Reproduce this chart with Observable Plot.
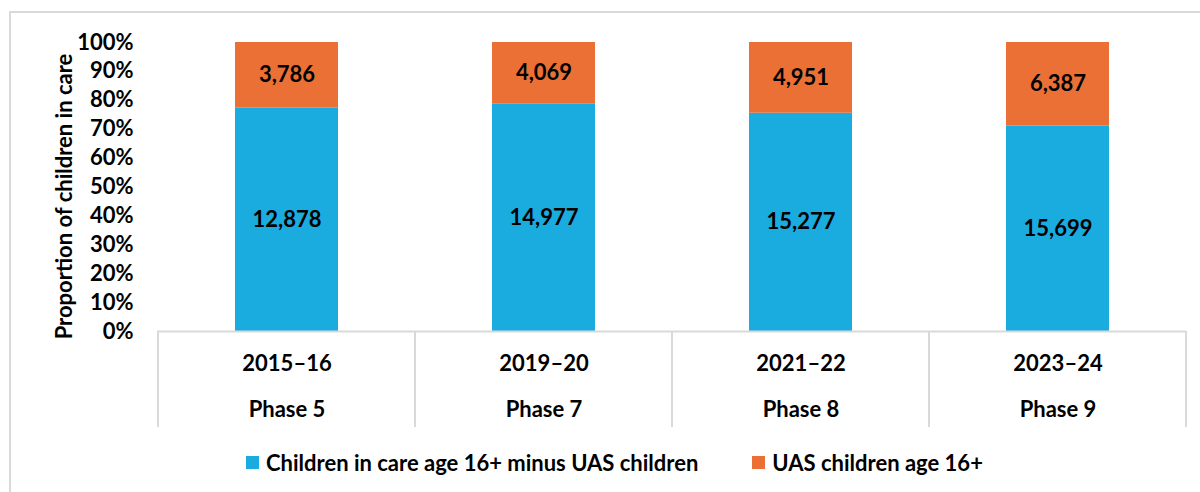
<!DOCTYPE html>
<html>
<head>
<meta charset="utf-8">
<script src="https://cdn.jsdelivr.net/npm/d3@7"></script>
<script src="https://cdn.jsdelivr.net/npm/@observablehq/plot@0.6"></script>
<style>
  html, body { margin: 0; padding: 0; background: #fff; overflow: hidden; }
  #wrap { position: relative; width: 1200px; height: 492px; font-family: Lato, "Open Sans", sans-serif; }
  #frame { position: absolute; left: 9px; top: 11px; width: 1210px; height: 500px; border-left: 2px solid #d9d9d9; border-top: 2px solid #d9d9d9; pointer-events: none; }
  #legend { position: absolute; left: 246px; top: 449px; display: flex; align-items: center; font-weight: bold; font-size: 22px; color: #000; }
  .item { display: flex; align-items: center; margin-right: 54px; }
  .sw { width: 13px; height: 13px; margin-right: 7px; }
</style>
</head>
<body>
<div id="wrap">
  <div id="chart"></div>
  <div id="legend"></div>
  <div id="frame"></div>
</div>
<script>
const periods = ["2015–16", "2019–20", "2021–22", "2023–24"];
const phases = ["Phase 5", "Phase 7", "Phase 8", "Phase 9"];
const seriesNames = ["Children in care age 16+ minus UAS children", "UAS children age 16+"];
const nonUAS = [12878, 14977, 15277, 15699];
const uas = [3786, 4069, 4951, 6387];
const colors = ["#1AABDF", "#EA7035"];
const yTicks = [0, 0.1, 0.2, 0.3, 0.4, 0.5, 0.6, 0.7, 0.8, 0.9, 1];
const yTitle = "Proportion of children in care";

const data = [];
periods.forEach((p, i) => {
  data.push({period: p, series: seriesNames[0], value: nonUAS[i]});
  data.push({period: p, series: seriesNames[1], value: uas[i]});
});
const phaseOf = Object.fromEntries(periods.map((p, i) => [p, phases[i]]));
const fmt = d3.format(",");
const FS = 22;

const plot = Plot.plot({
  width: 1200,
  height: 440,
  marginLeft: 157,
  marginRight: 14,
  marginTop: 42,
  marginBottom: 109,
  style: {fontFamily: "Lato, 'Open Sans', sans-serif", background: "transparent", color: "#000"},
  x: {domain: periods, paddingInner: 0.6, paddingOuter: 0.3, axis: null},
  y: {domain: [0, 1], axis: null},
  color: {domain: seriesNames, range: colors},
  marks: [
    Plot.barY(data, Plot.stackY({x: "period", y: "value", fill: "series", order: seriesNames, offset: "normalize"})),
    Plot.text(data, Plot.stackY({x: "period", y: "value", z: "series", order: seriesNames, offset: "normalize",
      text: d => fmt(d.value), fontSize: FS, fontWeight: "bold", fill: "#000"})),
    Plot.ruleY([0], {stroke: "#d9d9d9", strokeWidth: 2}),
    Plot.axisY({ticks: yTicks, tickFormat: d3.format(".0%"), tickSize: 0, tickPadding: 24, fontSize: FS, fontWeight: "bold", label: null}),
    Plot.axisX({tickSize: 0, tickPadding: 24, fontSize: FS, fontWeight: "bold", label: null}),
    Plot.axisX({tickSize: 0, tickPadding: 70, fontSize: FS, fontWeight: "bold", label: null, tickFormat: d => phaseOf[d]})
  ]
});
document.getElementById("chart").appendChild(plot);

// category table dividers from the x scale
const xs = plot.scale("x");
const ys = plot.scale("y");
const step = xs.step;
const y0 = ys.apply(0);
const svg = d3.select(plot);
const edges = periods.map(p => xs.apply(p) + xs.bandwidth / 2 - step / 2).concat([xs.apply(periods[periods.length - 1]) + xs.bandwidth / 2 + step / 2]);
svg.append("g").selectAll("line").data(edges).join("line")
  .attr("x1", d => d).attr("x2", d => d)
  .attr("y1", y0).attr("y2", y0 + 96)
  .attr("stroke", "#d9d9d9").attr("stroke-width", 2);

// y axis title
const yMid = (ys.apply(0) + ys.apply(1)) / 2 + 10;
svg.append("text")
  .attr("transform", `translate(72,${yMid}) rotate(-90)`)
  .attr("text-anchor", "middle")
  .attr("font-size", FS).attr("font-weight", "bold").attr("fill", "#000")
  .text(yTitle);

// legend
const legend = d3.select("#legend");
seriesNames.forEach((s, i) => {
  const it = legend.append("div").attr("class", "item");
  it.append("div").attr("class", "sw").style("background", colors[i]);
  it.append("span").text(s);
});
</script>
</body>
</html>
